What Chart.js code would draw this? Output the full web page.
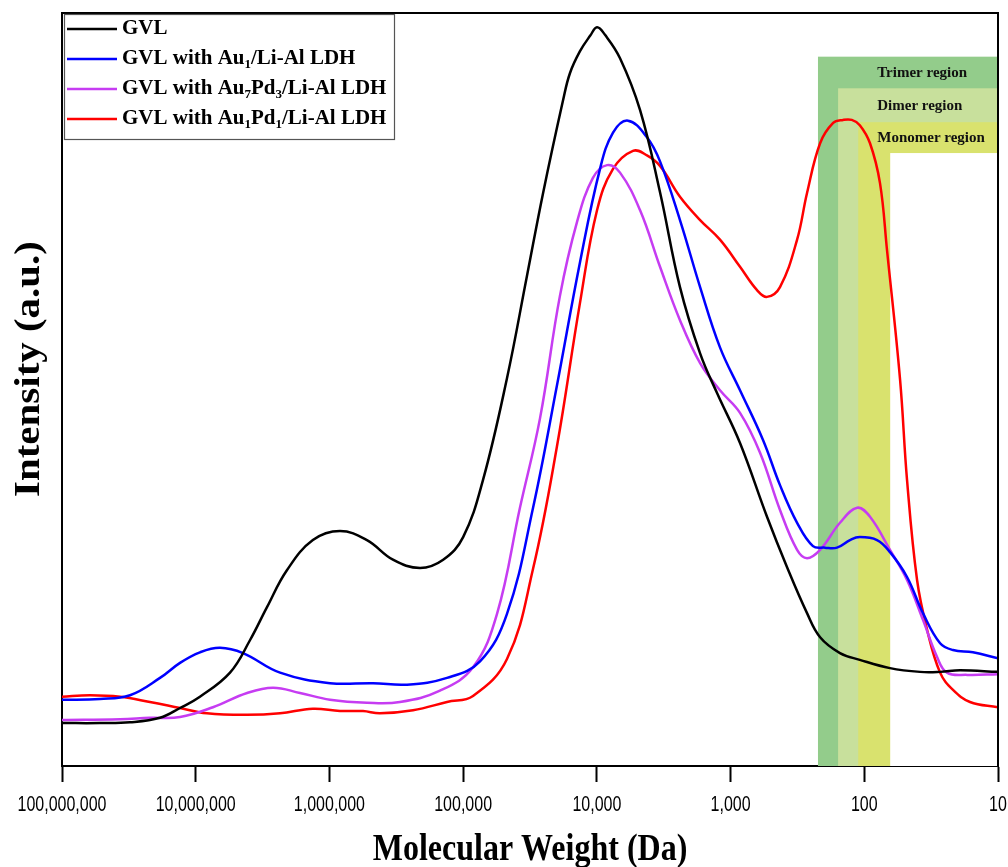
<!DOCTYPE html>
<html>
<head>
<meta charset="utf-8">
<script src="https://cdn.jsdelivr.net/npm/chart.js@4"></script>
<style>
  html, body { margin: 0; padding: 0; background: #fff; }
  #wrap { width: 1008px; height: 867px; }
</style>
</head>
<body>
<div id="wrap"><canvas id="gpc" width="1008" height="867"></canvas></div>
<script>
// GPC traces: molecular weight (Da) vs intensity (a.u.)
const seriesNames = [
  'GVL',
  'GVL with Au_1/Li-Al LDH',
  'GVL with Au_7Pd_3/Li-Al LDH',
  'GVL with Au_1Pd_1/Li-Al LDH'
];
const seriesColors = ['#000000', '#0000ff', '#c63cf2', '#ff0000'];

const gvlMw = [1e8, 5.2e7, 3.1e7, 1.85e7, 1.31e7, 9.3e6, 5.54e6, 3.93e6, 2.93e6, 2.08e6,
  1.33e6, 8.34e5, 5.24e5, 3.35e5, 2.1e5, 1.41e5, 1e5, 7.1e4, 4.7e4, 3.33e4,
  2.53e4, 1.79e4, 1.59e4, 1.34e4, 1.12e4, 9970, 8690, 6710, 4750, 3370,
  2390, 1690, 1260, 850, 534, 378, 268, 214, 152, 108,
  64.2, 38.3, 27.1, 19.2, 10];
const gvlInt = [5.7, 5.7, 5.8, 6.4, 7.7, 9.2, 12.4, 16.7, 21.1, 26.0,
  30.0, 31.2, 30.0, 27.4, 26.3, 27.4, 30.4, 38.0, 51.5, 65.1,
  76.0, 88.4, 92.0, 94.9, 97.0, 98.1, 97.1, 94.0, 87.1, 76.2,
  63.6, 54.8, 49.5, 42.9, 33.1, 26.4, 20.3, 17.1, 15.0, 14.1,
  13.0, 12.5, 12.5, 12.7, 12.5];

const au1Mw = [1e8, 5.2e7, 3.1e7, 1.85e7, 1.31e7, 9.3e6, 6.58e6, 4.43e6, 2.34e6, 9.9e5,
  4.72e5, 2.63e5, 1.32e5, 7.48e4, 4.7e4, 3.0e4, 1.99e4, 1.34e4, 9470, 7570,
  5850, 4220, 3370, 2390, 1690, 1200, 850, 572, 427, 318,
  242, 197, 160, 128, 108, 80.3, 64.2, 47.9, 36.4, 27.1, 21.7, 15.4, 10];
const au1Int = [8.8, 8.9, 9.4, 11.7, 13.7, 15.1, 15.7, 15.0, 12.4, 11.0,
  11.0, 10.8, 11.7, 13.9, 20.2, 34.3, 50.5, 66.8, 79.3, 84.1,
  85.7, 83.5, 80.3, 72.5, 63.6, 55.6, 49.9, 43.3, 37.3, 32.3,
  29.2, 29.0, 29.0, 30.0, 30.4, 30.0, 28.4, 25.1, 20.3, 16.3, 15.4, 15.1, 14.3];

const au7pd3Mw = [1e8, 3.68e7, 2.2e7, 1.31e7, 7.43e6, 4.13e6, 2.64e6, 1.66e6, 9.9e5, 5.24e5,
  2.97e5, 1.49e5, 8.44e4, 5.58e4, 3.76e4, 2.66e4, 1.89e4, 1.41e4, 1.07e4, 8390,
  6710, 4750, 3370, 2390, 1690, 1200, 850, 602, 427, 318,
  268, 214, 152, 113, 90.6, 64.2, 47.9, 36.4, 28.6, 24.1, 17.0, 10];
const au7pd3Int = [6.1, 6.2, 6.4, 6.5, 7.8, 9.7, 10.4, 9.7, 8.8, 8.4,
  8.5, 10.0, 13.1, 20.2, 34.3, 46.2, 62.4, 72.2, 78.1, 79.8,
  78.8, 73.8, 66.3, 59.2, 53.5, 49.9, 46.9, 41.6, 34.0, 28.7,
  27.6, 28.7, 32.3, 34.3, 33.1, 28.7, 24.7, 19.4, 14.5, 12.4, 12.1, 12.2];

const au1pd1Mw = [1e8, 6.18e7, 3.68e7, 2.2e7, 1.31e7, 8.24e6, 4.13e6, 2.34e6, 1.33e6, 8.34e5,
  5.61e5, 4.19e5, 2.37e5, 1.32e5, 8.44e4, 4.7e4, 3.0e4, 1.99e4, 1.34e4, 9970,
  7570, 5370, 4220, 3370, 2390, 1690, 1200, 850, 634, 534,
  427, 318, 268, 214, 171, 144, 124, 108, 90.6, 76.3,
  67.6, 54.0, 47.9, 40.3, 33.9, 27.1, 21.7, 16.2, 10];
const au1pd1Int = [9.2, 9.4, 9.2, 8.5, 7.7, 7.0, 6.8, 7.0, 7.6, 7.3,
  7.3, 7.0, 7.4, 8.5, 9.3, 14.2, 26.2, 42.4, 61.4, 73.8,
  79.3, 81.7, 81.1, 79.7, 75.6, 72.5, 69.9, 66.3, 63.2, 62.3,
  63.6, 69.9, 76.1, 82.7, 85.4, 85.8, 85.8, 85.1, 82.7, 77.4,
  68.5, 51.3, 38.0, 24.7, 18.1, 12.4, 10.1, 8.5, 7.8];

const xTickValues = [1e8, 1e7, 1e6, 1e5, 1e4, 1e3, 100, 10];

// Oligomer regions (shaded, stepped boxes on the right)
const regionNames = ['Trimer region', 'Dimer region', 'Monomer region'];
const regionFromMw = [222, 157, 111];
const regionTop = [94.2, 90.0, 85.5];
const regionColors = ['#93cc8b', '#c8e09c', '#d9e26e'];
const blankFromMw = 64;
const blankTop = 81.4;

const allMw = [gvlMw, au1Mw, au7pd3Mw, au1pd1Mw];
const allInt = [gvlInt, au1Int, au7pd3Int, au1pd1Int];

const SERIF = '"Liberation Serif", "Times New Roman", serif';

// split "Au_1Pd_1" into normal / subscript pieces
function parseLabel(text) {
  const parts = [];
  const re = /_(\d+)/g;
  let last = 0, m;
  while ((m = re.exec(text)) !== null) {
    if (m.index > last) parts.push({ t: text.slice(last, m.index), sub: false });
    parts.push({ t: m[1], sub: true });
    last = m.index + m[0].length;
  }
  if (last < text.length) parts.push({ t: text.slice(last), sub: false });
  return parts;
}

const regionPlugin = {
  id: 'regions',
  beforeDatasetsDraw(chart) {
    const { ctx, chartArea, scales: { x, y } } = chart;
    ctx.save();
    for (let i = 0; i < regionNames.length; i++) {
      const left = x.getPixelForValue(regionFromMw[i]);
      const top = y.getPixelForValue(regionTop[i]);
      ctx.fillStyle = regionColors[i];
      ctx.fillRect(left, top, chartArea.right - left, chartArea.bottom - top);
    }
    const bl = x.getPixelForValue(blankFromMw);
    const bt = y.getPixelForValue(blankTop);
    ctx.fillStyle = '#ffffff';
    ctx.fillRect(bl, bt, chartArea.right - bl, chartArea.bottom - bt);

    // labels sit in the strip between one box top and the next
    const tops = regionTop.map(v => y.getPixelForValue(v)).concat([bt]);
    const lx = x.getPixelForValue(regionFromMw[regionFromMw.length - 1]) + 19;
    ctx.fillStyle = '#111';
    ctx.font = 'bold 15px ' + SERIF;
    ctx.textBaseline = 'middle';
    ctx.textAlign = 'left';
    for (let i = 0; i < regionNames.length; i++) {
      ctx.fillText(regionNames[i], lx, (tops[i] + tops[i + 1]) / 2 + 1);
    }
    ctx.restore();
  }
};

const framePlugin = {
  id: 'frame',
  afterDraw(chart) {
    const { ctx, chartArea: a, scales: { x } } = chart;
    ctx.save();
    ctx.strokeStyle = '#000';
    ctx.lineWidth = 2;
    ctx.beginPath();
    ctx.moveTo(a.left, a.top);
    ctx.lineTo(a.right, a.top);
    ctx.lineTo(a.right, a.bottom);
    ctx.stroke();

    // x tick labels (narrow, slightly tall lettering as in the figure)
    ctx.fillStyle = '#000';
    ctx.textAlign = 'center';
    ctx.textBaseline = 'middle';
    ctx.font = '16px "Liberation Sans", Arial, sans-serif';
    x.ticks.forEach(t => {
      ctx.save();
      ctx.translate(x.getPixelForValue(t.value), 805);
      ctx.scale(1, 1.35);
      ctx.fillText(Number(t.value).toLocaleString('en-US'), 0, 0);
      ctx.restore();
    });

    // legend box
    const bx = 64, by = 14, bw = 330, bh = 125;
    ctx.fillStyle = '#fff';
    ctx.fillRect(bx, by, bw, bh);
    ctx.strokeStyle = '#555';
    ctx.lineWidth = 1.2;
    ctx.strokeRect(bx + 0.5, by + 0.5, bw, bh);
    const fs = 21;
    for (let i = 0; i < seriesNames.length; i++) {
      const ly = 29 + i * 30;
      ctx.strokeStyle = seriesColors[i];
      ctx.lineWidth = 2.5;
      ctx.beginPath();
      ctx.moveTo(67, ly);
      ctx.lineTo(117, ly);
      ctx.stroke();
      let tx = 122;
      ctx.fillStyle = '#000';
      ctx.textBaseline = 'middle';
      ctx.textAlign = 'left';
      parseLabel(seriesNames[i]).forEach(p => {
        ctx.font = 'bold ' + (p.sub ? 13 : fs) + 'px ' + SERIF;
        ctx.fillText(p.t, tx, p.sub ? ly + 6 : ly);
        tx += ctx.measureText(p.t).width;
      });
    }

    // axis titles
    ctx.fillStyle = '#000';
    ctx.textAlign = 'center';
    ctx.textBaseline = 'middle';
    ctx.save();
    ctx.translate((a.left + a.right) / 2, 850);
    ctx.scale(1, 1.2);
    ctx.font = 'bold 32px ' + SERIF;
    ctx.fillText('Molecular Weight (Da)', 0, 0);
    ctx.restore();

    ctx.save();
    ctx.translate(30, 369);
    ctx.rotate(-Math.PI / 2);
    ctx.scale(1.17, 1);
    ctx.font = 'bold 35px ' + SERIF;
    ctx.fillText('Intensity (a.u.)', 0, 0);
    ctx.restore();
    ctx.restore();
  }
};

const datasets = seriesNames.map((name, i) => ({
  label: name,
  data: allMw[i].map((mw, j) => ({ x: mw, y: allInt[i][j] })),
  borderColor: seriesColors[i],
  borderWidth: 2.5,
  pointRadius: 0,
  tension: 0.4,
  fill: false
}));

new Chart(document.getElementById('gpc'), {
  type: 'line',
  data: { datasets: datasets },
  options: {
    responsive: false,
    animation: false,
    devicePixelRatio: 1,
    layout: { padding: { top: 13, right: 10, left: 0, bottom: 0 } },
    plugins: {
      legend: { display: false },
      tooltip: { enabled: false }
    },
    scales: {
      x: {
        type: 'logarithmic',
        reverse: true,
        min: 10,
        max: 1e8,
        afterBuildTicks(scale) {
          scale.ticks = xTickValues.map(v => ({ value: v }));
        },
        afterFit(scale) { scale.height = 101; },
        grid: {
          display: true,
          drawOnChartArea: false,
          drawTicks: true,
          tickLength: 16,
          tickWidth: 2,
          tickColor: '#000'
        },
        border: { display: true, width: 2, color: '#000' },
        ticks: { display: false }
      },
      y: {
        type: 'linear',
        min: 0,
        max: 100,
        afterFit(scale) { scale.width = 62; },
        grid: { display: false },
        border: { display: true, width: 2, color: '#000' },
        ticks: { display: false }
      }
    }
  },
  plugins: [regionPlugin, framePlugin]
});
</script>
</body>
</html>
